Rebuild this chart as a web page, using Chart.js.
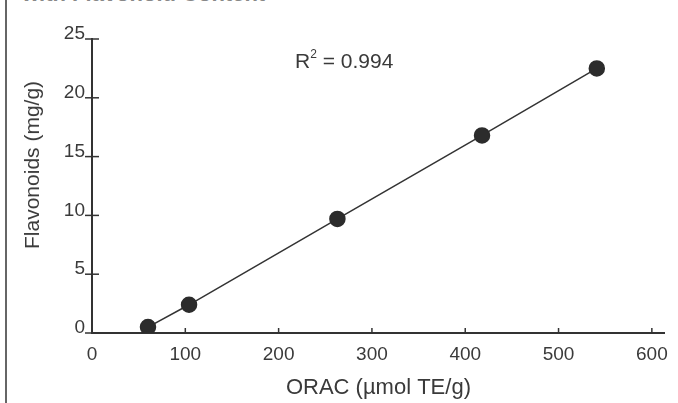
<!DOCTYPE html>
<html>
<head>
<meta charset="utf-8">
<script src="https://cdn.jsdelivr.net/npm/chart.js@4.4.1/dist/chart.umd.min.js"></script>
<style>
    body { margin: 0; background: #fff; }
    #wrap { position: relative; width: 678px; height: 403px; overflow: hidden; background: #fff; }
    #chart { position: absolute; left: 0; top: 0; }
    .cut-title { position: absolute; left: 22px; top: -19px; font: bold 22px 'Liberation Sans', Arial, sans-serif; color: #888; white-space: nowrap; }
    .frame { position: absolute; left: 5px; top: 0; width: 0; height: 403px; border-left: 2px solid #666; }
    .ytitle { position: absolute; left: 32px; top: 165px; transform: translate(-50%, -50%) rotate(-90deg); font: 21px 'Liberation Sans', Arial, sans-serif; color: #3a3a3a; white-space: nowrap; }
    .r2 { position: absolute; left: 295px; top: 49px; font: 21px 'Liberation Sans', Arial, sans-serif; color: #3a3a3a; white-space: nowrap; }
    .r2 sup { font-size: 12px; position: relative; top: -2px; }
</style>
</head>
<body>
<div id="wrap">
    <div class="cut-title">with Flavonoid Content</div>
    <div class="frame"></div>
    <canvas id="chart" width="678" height="403"></canvas>
    <div class="ytitle">Flavonoids (mg/g)</div>
    <div class="r2">R<sup>2</sup> = 0.994</div>
</div>
<script>
    // ### DATA ###
    const oracValues = [60, 104, 263, 418, 541];        // µmol TE/g
    const flavonoidValues = [0.5, 2.4, 9.7, 16.8, 22.5]; // mg/g
    const xTickValues = [0, 100, 200, 300, 400, 500, 600];
    const yTickValues = [0, 5, 10, 15, 20, 25];

    const ink = '#333';
    const fontFamily = "'Liberation Sans', Arial, sans-serif";

    // Small cross / upward ticks like the printed figure
    const tickMarks = {
        id: 'tickMarks',
        afterDraw(chart) {
            const { ctx, scales: { x, y } } = chart;
            ctx.save();
            ctx.strokeStyle = ink;
            ctx.lineWidth = 1.5;
            xTickValues.forEach(v => {
                const px = x.getPixelForValue(v);
                ctx.beginPath();
                ctx.moveTo(px, y.bottom);
                ctx.lineTo(px, y.bottom - 5);
                ctx.stroke();
            });
            yTickValues.forEach(v => {
                const py = y.getPixelForValue(v);
                ctx.beginPath();
                ctx.moveTo(x.left - 7, py);
                ctx.lineTo(x.left + 7, py);
                ctx.stroke();
            });
            ctx.restore();
        }
    };

    new Chart(document.getElementById('chart'), {
        type: 'scatter',
        data: {
            datasets: [{
                data: oracValues.map((v, i) => ({ x: v, y: flavonoidValues[i] })),
                showLine: true,
                borderColor: ink,
                borderWidth: 1.5,
                backgroundColor: '#2c2c2c',
                pointBorderColor: '#2c2c2c',
                pointRadius: 7.5,
                pointHoverRadius: 7.5
            }]
        },
        options: {
            responsive: false,
            devicePixelRatio: 1,
            animation: false,
            layout: { padding: { left: 0, top: 39, right: 13, bottom: 0 } },
            plugins: {
                legend: { display: false },
                tooltip: { enabled: false }
            },
            scales: {
                x: {
                    type: 'linear',
                    min: 0,
                    max: 614,
                    afterBuildTicks: s => { s.ticks = xTickValues.map(v => ({ value: v })); },
                    afterFit: s => { s.height = 70; },
                    grid: { display: false, drawTicks: false },
                    border: { display: true, color: ink, width: 2 },
                    ticks: {
                        padding: 10,
                        color: '#3a3a3a',
                        font: { family: fontFamily, size: 19 },
                        maxRotation: 0
                    },
                    title: {
                        display: true,
                        text: 'ORAC (µmol TE/g)',
                        color: '#3a3a3a',
                        font: { family: fontFamily, size: 22 },
                        padding: { top: 0, bottom: 2 }
                    }
                },
                y: {
                    min: 0,
                    max: 25,
                    afterBuildTicks: s => { s.ticks = yTickValues.map(v => ({ value: v })); },
                    afterFit: s => { s.width = 92; },
                    grid: { display: false, drawTicks: false },
                    border: { display: true, color: ink, width: 2 },
                    ticks: {
                        padding: 7,
                        labelOffset: -5,
                        color: '#3a3a3a',
                        font: { family: fontFamily, size: 19 }
                    }
                }
            }
        },
        plugins: [tickMarks]
    });
</script>
</body>
</html>
